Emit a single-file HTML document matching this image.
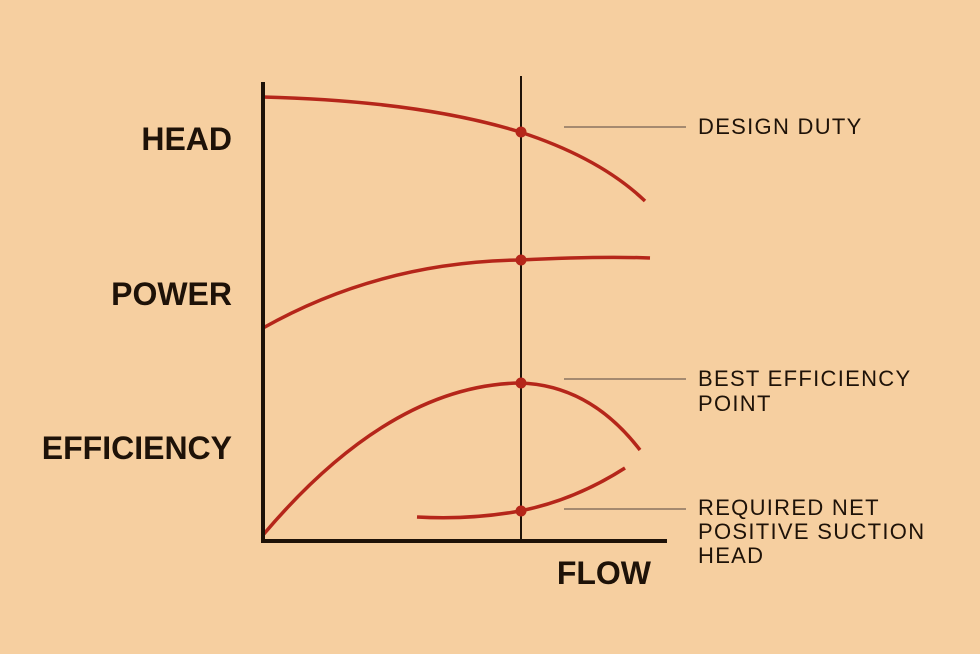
<!DOCTYPE html>
<html><head><meta charset="utf-8"><style>
html,body{margin:0;padding:0;background:#F6CFA0;}
svg{display:block}
text{font-family:"Liberation Sans",Arial,sans-serif;fill:#1e1208}
.b{font-weight:bold;font-size:32px}
.s{font-size:22px;letter-spacing:1.3px}
</style></head><body>
<svg width="980" height="654" viewBox="0 0 980 654">
<rect width="980" height="654" fill="#F6CFA0"/>
<g stroke="#8a7360" stroke-width="1.5">
<line x1="564" y1="127" x2="686" y2="127"/>
<line x1="564" y1="379" x2="686" y2="379"/>
<line x1="564" y1="509" x2="686" y2="509"/>
</g>
<line x1="521" y1="76" x2="521" y2="541" stroke="#1e1208" stroke-width="2"/>
<g fill="none" stroke="#B5261A" stroke-width="3.5">
<path d="M263,97 Q420,101 520,132 Q600,158 645,201"/>
<path d="M263,328 Q380,262 520,260 Q600,256 650,258"/>
<path d="M263,535 Q390,385 520,383 Q590,385 640,450"/>
<path d="M417,517 Q470,520 520,511 Q575,500 625,468"/>
</g>
<g fill="#B5261A">
<circle cx="521" cy="132" r="5.5"/>
<circle cx="521" cy="260" r="5.5"/>
<circle cx="521" cy="383" r="5.5"/>
<circle cx="521" cy="511" r="5.5"/>
</g>
<path d="M263,82 V541 H667" fill="none" stroke="#1e1208" stroke-width="4"/>
<text class="b" x="232" y="150" text-anchor="end">HEAD</text>
<text class="b" x="232" y="305" text-anchor="end">POWER</text>
<text class="b" x="232" y="459" text-anchor="end">EFFICIENCY</text>
<text class="b" x="651" y="584" text-anchor="end">FLOW</text>
<text class="s" x="698" y="134">DESIGN DUTY</text>
<text class="s" x="698" y="386">BEST EFFICIENCY</text>
<text class="s" x="698" y="411">POINT</text>
<text class="s" x="698" y="515">REQUIRED NET</text>
<text class="s" x="698" y="539">POSITIVE SUCTION</text>
<text class="s" x="698" y="563">HEAD</text>
</svg>
</body></html>
